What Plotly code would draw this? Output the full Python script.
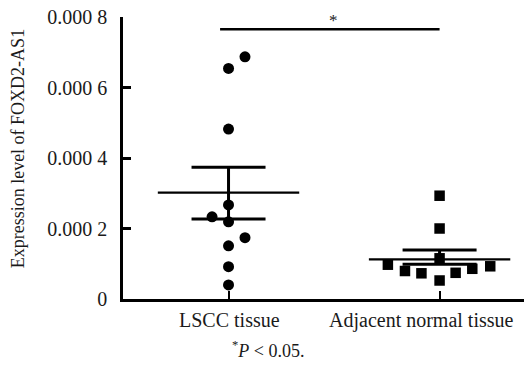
import plotly.graph_objects as go

# ---------------- data ----------------
categories = ["LSCC tissue", "Adjacent normal tissue"]
cat_pos = [0, 1]

lscc_values = [0.000687, 0.000654, 0.000482, 0.000267, 0.000233,
               0.000219, 0.000174, 0.000151, 0.0000917, 0.000040]
lscc_jitter = [0.078, 0.0, 0.0, 0.0, -0.078, 0.0, 0.078, 0.0, 0.0, 0.0]

adj_values = [0.000293, 0.000200, 0.0001155, 0.0000973, 0.0000794,
              0.0000729, 0.0000525, 0.0000743, 0.0000857, 0.0000928]
adj_jitter = [0.0, 0.0, 0.0, -0.245, -0.164, -0.086, 0.0, 0.076, 0.155, 0.24]

group_means = [0.000302, 0.0001126]
sem_upper = [0.000374, 0.000139]
sem_lower = [0.000227, 0.0000985]

y_tickvals = [0, 0.0002, 0.0004, 0.0006, 0.0008]
y_ticktext = ["0", "0.000 2", "0.000 4", "0.000 6", "0.000 8"]

sig_y = 0.000765
sig_x = [-0.04, 1.0]
sig_label_x = 0.497

y_title = "Expression level of FOXD2-AS1"
caption = "<sup>*</sup><i>P</i> &lt; 0.05."

# ---------------- styles ----------------
FONT = "Liberation Serif, Times New Roman, DejaVu Serif, serif"
TXT = "#1a1a1a"
MEAN_HALF = 0.335

fig = go.Figure()

# mean lines
mx, my = [], []
for c, m in zip(cat_pos, group_means):
    mx += [c - MEAN_HALF, c + MEAN_HALF, None]
    my += [m, m, None]
fig.add_trace(go.Scatter(x=mx, y=my, mode="lines",
                         line=dict(color="black", width=2.2),
                         hoverinfo="skip", showlegend=False))

# SEM error bars
fig.add_trace(go.Scatter(
    x=cat_pos, y=group_means, mode="markers",
    marker=dict(size=1, color="rgba(0,0,0,0)"),
    error_y=dict(type="data", symmetric=False,
                 array=[u - m for u, m in zip(sem_upper, group_means)],
                 arrayminus=[m - l for l, m in zip(sem_lower, group_means)],
                 color="black", thickness=3, width=37),
    hoverinfo="skip", showlegend=False))

# data points
fig.add_trace(go.Scatter(
    x=[cat_pos[0] + j for j in lscc_jitter], y=lscc_values, mode="markers",
    marker=dict(symbol="circle", size=11, color="black"),
    showlegend=False, cliponaxis=False))
fig.add_trace(go.Scatter(
    x=[cat_pos[1] + j for j in adj_jitter], y=adj_values, mode="markers",
    marker=dict(symbol="square", size=10.5, color="black"),
    showlegend=False, cliponaxis=False))

# significance bar
fig.add_trace(go.Scatter(x=sig_x, y=[sig_y, sig_y], mode="lines",
                         line=dict(color="black", width=2.5),
                         hoverinfo="skip", showlegend=False))

annotations = [
    dict(x=sig_label_x, y=sig_y, xref="x", yref="y",
         text="*", showarrow=False, yanchor="bottom", yshift=-3,
         font=dict(family=FONT, size=17, color=TXT)),
    dict(x=-0.262, y=0.534, xref="paper", yref="paper", text=y_title,
         textangle=-90, showarrow=False, xanchor="center", yanchor="middle",
         font=dict(family=FONT, size=18, color=TXT)),
    dict(x=0.3616, y=-0.18, xref="paper", yref="paper", text=caption,
         showarrow=False, xanchor="center", yanchor="middle",
         font=dict(family=FONT, size=18, color=TXT)),
]
label_shift = [1, -18]
for c, lab, s in zip(cat_pos, categories, label_shift):
    annotations.append(dict(x=c, y=0, xref="x", yref="paper", text=lab,
                            showarrow=False, xanchor="center", yanchor="top",
                            xshift=s, yshift=-8,
                            font=dict(family=FONT, size=20, color=TXT)))

fig.update_layout(
    width=524, height=379,
    margin=dict(l=123, r=0, t=17, b=80),
    paper_bgcolor="white", plot_bgcolor="white",
    font=dict(family=FONT, color=TXT),
    xaxis=dict(range=[-0.5, 1.4], showgrid=False, zeroline=False,
               showline=True, linecolor="black", linewidth=2.6,
               tickvals=cat_pos, ticks="inside", ticklen=8, tickwidth=2,
               tickcolor="black", showticklabels=False),
    yaxis=dict(range=[0, 0.0008], showgrid=False, zeroline=False,
               showline=True, linecolor="black", linewidth=2.6,
               tickvals=y_tickvals, ticktext=y_ticktext,
               ticks="inside", ticklen=8, tickwidth=2.5, tickcolor="black",
               ticklabelstandoff=9,
               tickfont=dict(family=FONT, size=20, color=TXT)),
    annotations=annotations,
)

fig.write_html("out.html")
